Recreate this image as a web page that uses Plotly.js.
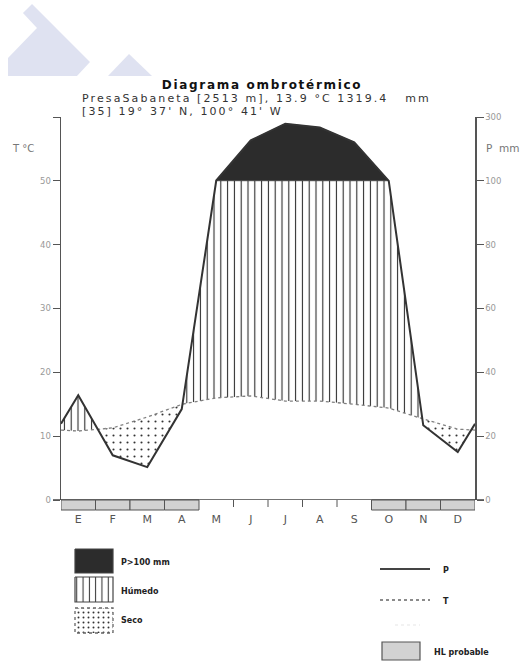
<!DOCTYPE html>
<html>
<head>
<meta charset="utf-8">
<script src="https://cdn.plot.ly/plotly-3.0.1.min.js"></script>
<style>html,body{margin:0;padding:0;background:#fff;}#chart{width:532px;height:663px;}</style>
</head>
<body>
<div id="chart"></div>
<script>
// ---- data ----
const months = ['E','F','M','A','M','J','J','A','S','O','N','D'];
const precip = [32.8, 14.0, 10.3, 28.5, 101, 227, 279, 267, 221, 100, 23.4, 15.0]; // mm
const temp = [10.8, 11.3, 13.0, 15.0, 16.0, 16.3, 15.5, 15.5, 15.0, 14.4, 12.7, 11.1]; // °C
const hlProbable = [1,1,1,1,0,0,0,0,0,1,1,1];
const leftTickVals = [0,20,40,60,80,100,120];
const leftTickText = ['0','10','20','30','40','50',''];
const rightTickText = ['0','20','40','60','80','100','300'];

// ---- geometry helpers (page pixels -> paper) ----
const PL=61, PR=475, PT=117, PB=663, AX0=500;
const d0 = (PB-AX0)/(PB-PT);
const px = x => (x-PL)/(PR-PL);
const py = y => (PB-y)/(PB-PT);

// Walter-Lieth scale: P (mm) <=100 linear, above compressed 1/10; T*2
const pScale = p => p<=100 ? p : 100 + (p-100)/10;
const tScale = t => 2*t;

// base points: month centres plus wrap-around edge values
const edgeP = (precip[11]+precip[0])/2, edgeT = (temp[11]+temp[0])/2;
const bx = [0].concat(months.map((m,i)=>i+0.5)).concat([12]);
const bp = [pScale(edgeP)].concat(precip.map(pScale)).concat([pScale(edgeP)]);
const bt = [tScale(edgeT)].concat(temp.map(tScale)).concat([tScale(edgeT)]);

// insert crossing points
let xs=[], ps=[], ts=[];
for(let i=0;i<bx.length;i++){
  xs.push(bx[i]); ps.push(bp[i]); ts.push(bt[i]);
  if(i===bx.length-1) break;
  const cand=[];
  const d1=bp[i]-bt[i], d2=bp[i+1]-bt[i+1];
  if(d1*d2<0) cand.push(d1/(d1-d2));
  const e1=bp[i]-100, e2=bp[i+1]-100;
  if(e1*e2<0) cand.push(e1/(e1-e2));
  cand.sort((a,b)=>a-b).forEach(f=>{
    xs.push(bx[i]+f*(bx[i+1]-bx[i]));
    ps.push(bp[i]+f*(bp[i+1]-bp[i]));
    ts.push(bt[i]+f*(bt[i+1]-bt[i]));
  });
}
const humTop = xs.map((x,i)=>Math.max(ts[i], Math.min(ps[i],100)));
const secoBot = xs.map((x,i)=>Math.min(ts[i], ps[i]));
// polygon for P > 100 mm
const wetIdx = xs.map((x,i)=>i).filter(i=>ps[i]>=100-1e-9);
const blackX = wetIdx.map(i=>xs[i]).concat([xs[wetIdx[wetIdx.length-1]], xs[wetIdx[0]]]);
const blackY = wetIdx.map(i=>ps[i]).concat([100,100]);

const inv = {width:0, color:'rgba(0,0,0,0)'};
const base = {type:'scatter', mode:'lines', hoverinfo:'skip', showlegend:false};
const traces = [
  Object.assign({}, base, {x:xs, y:ts, line:inv}),
  Object.assign({}, base, {x:xs, y:humTop, line:inv, fill:'tonexty', fillcolor:'rgba(255,255,255,0)',
     fillpattern:{shape:'|', size:6.8, solidity:0.16, fgcolor:'#2a2a2a', bgcolor:'rgba(255,255,255,0)'}}),
  Object.assign({}, base, {x:xs, y:ts, line:inv}),
  Object.assign({}, base, {x:xs, y:secoBot, line:inv, fill:'tonexty', fillcolor:'rgba(255,255,255,0)',
     fillpattern:{shape:'.', size:7, solidity:0.07, fgcolor:'#333', bgcolor:'rgba(255,255,255,0)'}}),
  Object.assign({}, base, {x:blackX, y:blackY, line:{width:0.5, color:'#2c2c2c'}, fill:'toself', fillcolor:'#2c2c2c'}),
  Object.assign({}, base, {x:xs, y:ts, line:{color:'#808080', width:1.3, dash:'dot'}}),
  Object.assign({}, base, {x:xs, y:ps, line:{color:'#333', width:2}}),
  {type:'scatter', x:[0], y:[0], yaxis:'y2', mode:'markers', marker:{opacity:0}, hoverinfo:'skip', showlegend:false}
];

// legend swatches (on an auxiliary pixel-coordinate axis pair)
function box(x0,y0,x1,y1){return {x:[x0,x1,x1,x0,x0], y:[y0,y0,y1,y1,y0]};}
const sw1 = box(75,549,113,573), sw2 = box(75,577,113,602), sw3 = box(75,608,113,633);
traces.push(Object.assign({}, base, sw1, {xaxis:'x3', yaxis:'y3', fill:'toself', fillcolor:'#2c2c2c', line:{color:'#444', width:1.2}}));
traces.push(Object.assign({}, base, sw2, {xaxis:'x3', yaxis:'y3', fill:'toself', fillcolor:'rgba(255,255,255,0)', line:{color:'#444', width:1.2},
   fillpattern:{shape:'|', size:6.3, solidity:0.16, fgcolor:'#2a2a2a', bgcolor:'rgba(255,255,255,0)'}}));
traces.push(Object.assign({}, base, sw3, {xaxis:'x3', yaxis:'y3', fill:'toself', fillcolor:'rgba(255,255,255,0)', line:{color:'#666', width:1.3, dash:'dot'},
   fillpattern:{shape:'.', size:5, solidity:0.12, fgcolor:'#333', bgcolor:'rgba(255,255,255,0)'}}));

const shapes = [];
// watermark
const wm1 = [[32,4],[90,62],[77,76],[8,76],[8,58],[37,28],[23,13]];
const wm2 = [[108,76],[129,54],[152,76]];
[wm1,wm2].forEach(pts=>{
  shapes.push({type:'path', xref:'paper', yref:'paper', layer:'below',
    path:'M '+pts.map(p=>px(p[0]).toFixed(4)+','+py(p[1]).toFixed(4)).join(' L ')+' Z',
    fillcolor:'#dfe2f1', line:{width:0}});
});
// month band: HL boxes and boundary ticks
hlProbable.forEach((h,i)=>{
  if(h) shapes.push({type:'rect', xref:'x', yref:'paper', x0:i, x1:i+1, y0:py(510), y1:py(500),
    fillcolor:'#d2d2d2', line:{color:'#555', width:1}});
});
for(let i=1;i<12;i++){
  if(!hlProbable[i-1] && !hlProbable[i])
    shapes.push({type:'line', xref:'x', yref:'paper', x0:i, x1:i, y0:py(507), y1:py(500), line:{color:'#555', width:1}});
}
// zero line
shapes.push({type:'line', xref:'paper', yref:'y', x0:px(53), x1:px(484), y0:0, y1:0, line:{color:'#444', width:1.4}});
// legend lines & box
shapes.push({type:'line', xref:'paper', yref:'paper', x0:px(380), x1:px(430), y0:py(569), y1:py(569), line:{color:'#444', width:2}});
shapes.push({type:'line', xref:'paper', yref:'paper', x0:px(380), x1:px(430), y0:py(600), y1:py(600), line:{color:'#666', width:1.3, dash:'dot'}});
shapes.push({type:'line', xref:'paper', yref:'paper', x0:px(395), x1:px(420), y0:py(625), y1:py(625), line:{color:'#eeeeee', width:1.5, dash:'dot'}});
shapes.push({type:'rect', xref:'paper', yref:'paper', x0:px(382), x1:px(420), y0:py(660), y1:py(642), fillcolor:'#d2d2d2', line:{color:'#555', width:1.2}});

const F = 'DejaVu Sans, Liberation Sans, sans-serif';
const ann = (text,x,y,o)=>Object.assign({text:text, xref:'paper', yref:'paper', x:px(x), y:py(y), showarrow:false,
   xanchor:'left', yanchor:'middle', font:{family:F, size:8, color:'#222'}}, o||{});
const annotations = [
  ann('<b>Diagrama ombrotérmico</b>', 262, 85, {xanchor:'center', font:{family:F, size:12, color:'#111'}}),
  ann('PresaSabaneta [2513 m], 13.9 °C 1319.4\u00a0\u00a0\u00a0mm', 82, 98.5, {font:{family:F, size:11, color:'#333'}}),
  ann('[35] 19° 37\' N, 100° 41\' W', 82, 111.5, {font:{family:F, size:11, color:'#333'}}),
  ann('T °C', 23, 148, {xanchor:'center', font:{family:F, size:10, color:'#777'}}),
  ann('P  mm', 502, 148, {xanchor:'center', font:{family:F, size:10.5, color:'#777'}}),
  ann('<b>P>100 mm</b>', 119, 562),
  ann('<b>Húmedo</b>', 119, 591),
  ann('<b>Seco</b>', 119, 620),
  ann('<b>P</b>', 441, 570),
  ann('<b>T</b>', 441, 601),
  ann('<b>HL probable</b>', 432, 652)
];
// letter spacing and target placement (left edge or centre, page px) for the header lines
const spacing = {0:{ls:'1.7px', centre:262}, 1:{ls:'2.1px', left:82}, 2:{ls:'2.1px', left:82}};

const layout = {
  width:532, height:663,
  margin:{l:PL, r:532-PR, t:PT, b:0, pad:0},
  paper_bgcolor:'#fff', plot_bgcolor:'rgba(0,0,0,0)',
  showlegend:false,
  xaxis:{range:[0,12], domain:[0,1], anchor:'y', showgrid:false, zeroline:false, showline:false,
    tickmode:'array', tickvals:months.map((m,i)=>i+0.5), ticktext:months,
    ticks:'outside', ticklen:9, tickcolor:'rgba(0,0,0,0)',
    tickfont:{family:F, size:11, color:'#555'}, fixedrange:true},
  yaxis:{range:[0,120], domain:[d0,1], anchor:'x', showgrid:false, zeroline:false, showline:true,
    linecolor:'#555', linewidth:1.5, ticks:'outside', ticklen:7, tickcolor:'#555', tickwidth:1,
    tickmode:'array', tickvals:leftTickVals, ticktext:leftTickText,
    tickfont:{family:F, size:8.5, color:'#999'}},
  yaxis2:{range:[0,120], overlaying:'y', side:'right', anchor:'x', showgrid:false, zeroline:false, showline:true,
    linecolor:'#555', linewidth:1.5, ticks:'outside', ticklen:7, tickcolor:'#555', tickwidth:1,
    tickmode:'array', tickvals:leftTickVals, ticktext:rightTickText,
    tickfont:{family:F, size:8.5, color:'#999'}},
  xaxis3:{domain:[0,1], anchor:'y3', range:[PL,PR], visible:false, fixedrange:true},
  yaxis3:{domain:[0,d0], anchor:'x3', range:[PB,AX0], visible:false, fixedrange:true},
  shapes:shapes,
  annotations:annotations
};

Plotly.newPlot('chart', traces, layout, {staticPlot:true, displayModeBar:false}).then(gd=>{
  const host = gd.getBoundingClientRect();
  gd.querySelectorAll('.annotation').forEach(a=>{
    const s = spacing[a.getAttribute('data-index')];
    if(!s) return;
    const t = a.querySelector('.annotation-text');
    if(!t) return;
    t.setAttribute('letter-spacing', s.ls);
    const r = t.getBoundingClientRect();
    let dx = 0;
    if(s.left !== undefined) dx = s.left - (r.left - host.left);
    else dx = s.centre - ((r.left + r.right)/2 - host.left);
    const prev = t.getAttribute('transform') || '';
    t.setAttribute('transform', prev + ' translate(' + dx.toFixed(2) + ',0)');
  });
});
</script>
</body>
</html>
